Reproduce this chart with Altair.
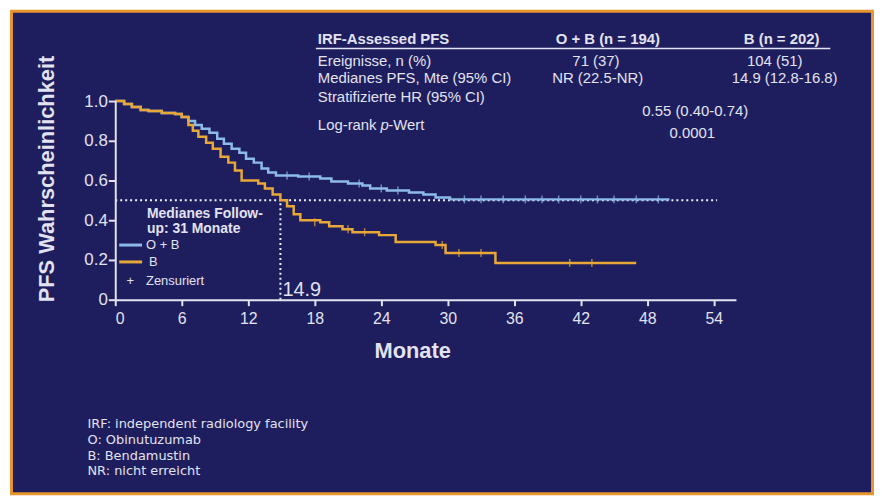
import altair as alt
import pandas as pd

# ---------------- data ----------------
ob_t = [0, 0.8, 1.5, 2.3, 3.0, 4.2, 5.4, 6.0, 6.6, 7.2, 7.8, 8.5, 9.2, 9.8, 10.5,
        11.2, 11.8, 12.5, 13.2, 13.8, 14.5, 16.5, 18.5, 19.5, 21.0, 22.3, 23.0,
        24.5, 26.5, 27.8, 28.9, 30.2, 50.0]
ob_s = [1.0, 0.985, 0.97, 0.955, 0.95, 0.94, 0.935, 0.92, 0.90, 0.88, 0.86, 0.84,
        0.81, 0.785, 0.76, 0.74, 0.71, 0.69, 0.66, 0.64, 0.625, 0.62, 0.61, 0.595,
        0.585, 0.575, 0.56, 0.55, 0.54, 0.53, 0.515, 0.505, 0.505]

b_t = [0, 0.8, 1.5, 2.3, 3.0, 4.2, 5.4, 6.0, 6.6, 7.0, 7.5, 8.2, 8.8, 9.5, 10.2,
       10.8, 11.4, 12.9, 13.5, 14.2, 14.9, 15.5, 16.1, 16.7, 18.5, 19.3, 20.5,
       21.4, 23.8, 25.3, 28.9, 29.8, 34.3, 47.0]
b_s = [1.0, 0.985, 0.97, 0.955, 0.95, 0.94, 0.935, 0.92, 0.88, 0.85, 0.82, 0.79,
       0.76, 0.72, 0.69, 0.65, 0.60, 0.585, 0.56, 0.53, 0.50, 0.47, 0.43, 0.40,
       0.39, 0.37, 0.355, 0.34, 0.325, 0.29, 0.275, 0.235, 0.185, 0.185]

ob_cens_t = [15.5, 17.5, 22.0, 24.0, 25.5, 31.5, 33.0, 35.0, 37.0, 38.5, 40.0, 42.0,
             43.5, 45.0, 47.0, 49.0]
ob_cens_s = [0.625, 0.62, 0.585, 0.56, 0.55, 0.505, 0.505, 0.505, 0.505, 0.505,
             0.505, 0.505, 0.505, 0.505, 0.505, 0.505]
b_cens_t = [18.0, 21.0, 22.5, 29.5, 31.0, 33.0, 41.0, 43.0]
b_cens_s = [0.39, 0.355, 0.34, 0.275, 0.235, 0.235, 0.185, 0.185]

groups = ["O + B", "B"]
colors = ["#8dbbe8", "#e8a838"]

x_ticks = [0, 6, 12, 18, 24, 30, 36, 42, 48, 54]
y_ticks = [0, 0.2, 0.4, 0.6, 0.8, 1.0]

median_b = 14.9
median_line_end = 54.3

table_header = ["IRF-Assessed  PFS", "O + B (n = 194)", "B (n = 202)"]
row_labels = ["Ereignisse, n (%)", "Medianes PFS, Mte (95% CI)", "Stratifizierte HR (95% CI)"]
ob_vals = ["71 (37)", "NR (22.5-NR)"]
b_vals = ["104 (51)", "14.9 (12.8-16.8)"]
hr_text = "0.55 (0.40-0.74)"
p_text = "0.0001"
footnotes = ["IRF: independent radiology facility", "O: Obinutuzumab",
             "B: Bendamustin", "NR: nicht erreicht"]

# ---------------- build tables ----------------
curve_df = pd.DataFrame(
    [{"t": t, "s": s, "g": "O + B"} for t, s in zip(ob_t, ob_s)]
    + [{"t": t, "s": s, "g": "B"} for t, s in zip(b_t, b_s)]
)
cens_df = pd.DataFrame(
    [{"t": t, "s": s, "g": "O + B"} for t, s in zip(ob_cens_t, ob_cens_s)]
    + [{"t": t, "s": s, "g": "B"} for t, s in zip(b_cens_t, b_cens_s)]
)

TXT = "#e2e2f0"
NAVY = "#1e1e5e"
ORANGE = "#e8952e"
FONT = "Liberation Sans"

xscale = alt.Scale(domain=[0, 56], nice=False, zero=False)
yscale = alt.Scale(domain=[0, 1], nice=False)
cscale = alt.Scale(domain=groups, range=colors)

one = alt.Data(values=[{}])

bg_orange = alt.Chart(one).mark_rect(color=ORANGE).encode(
    x=alt.value(-106), x2=alt.value(764), y=alt.value(-92), y2=alt.value(397))
bg_navy = alt.Chart(one).mark_rect(color=NAVY).encode(
    x=alt.value(-103), x2=alt.value(761), y=alt.value(-89), y2=alt.value(394))

curves = alt.Chart(curve_df).mark_line(interpolate="step-after", strokeWidth=2.5).encode(
    x=alt.X("t:Q", scale=xscale,
            axis=alt.Axis(values=x_ticks, tickCount=20, title="Monate", titleX=299, titleY=51,
                          titleBaseline="middle", titleFontSize=22, labelFontSize=16,
                          labelPadding=5, tickSize=6, zindex=2, labelOverlap=False)),
    y=alt.Y("s:Q", scale=yscale,
            axis=alt.Axis(values=y_ticks, tickCount=20, title="PFS Wahrscheinlichkeit",
                          labelExpr="datum.value == 0 ? '0' : format(datum.value, '.1f')",
                          titleX=-69, titleY=78, titleAngle=270, titleBaseline="middle",
                          titleAlign="center", titleFontSize=22, labelFontSize=17,
                          labelPadding=1, tickSize=7, zindex=2, labelOverlap=False,
                          labelBound=False)),
    color=alt.Color("g:N", scale=cscale, legend=None),
    detail="g:N",
)

cens = alt.Chart(cens_df).mark_tick(orient="vertical", size=8, thickness=1.5).encode(
    x=alt.X("t:Q", scale=xscale), y=alt.Y("s:Q", scale=yscale),
    color=alt.Color("g:N", scale=cscale, legend=None),
)

hline = alt.Chart(pd.DataFrame({"t": [0], "t2": [median_line_end], "s": [0.5]})).mark_rule(
    color="#f0f0ff", strokeWidth=2, strokeDash=[2, 3]).encode(
    x=alt.X("t:Q", scale=xscale), x2="t2:Q", y=alt.Y("s:Q", scale=yscale))
vline = alt.Chart(pd.DataFrame({"t": [median_b], "s": [0], "s2": [0.5]})).mark_rule(
    color="#f0f0ff", strokeWidth=2, strokeDash=[2, 3]).encode(
    x=alt.X("t:Q", scale=xscale), y=alt.Y("s:Q", scale=yscale), y2="s2:Q")
med_label = alt.Chart(pd.DataFrame({"t": [median_b], "s": [0], "lab": ["14.9"]})).mark_text(
    align="left", baseline="bottom", dx=2, dy=0, fontSize=20, font=FONT, color=TXT).encode(
    x=alt.X("t:Q", scale=xscale), y=alt.Y("s:Q", scale=yscale), text="lab:N")


def txt(s, x, y, size=15, bold=False, align="left", italic=False, color=TXT, font=FONT):
    return alt.Chart(one).mark_text(
        text=s, align=align, baseline="middle", fontSize=size, font=font,
        fontWeight="bold" if bold else "normal",
        fontStyle="italic" if italic else "normal", color=color,
    ).encode(x=alt.value(x), y=alt.value(y))


def rule(x1, x2, y1, y2, color, width=2, dash=None):
    kw = {"strokeDash": dash} if dash else {}
    return alt.Chart(one).mark_rule(color=color, strokeWidth=width, **kw).encode(
        x=alt.value(x1), x2=alt.value(x2), y=alt.value(y1), y2=alt.value(y2))


texts = [
    txt(table_header[0], 204, -62, bold=True),
    txt(table_header[1], 496, -62, bold=True, align="center"),
    txt(table_header[2], 671, -62, bold=True, align="center"),
    rule(202, 720, -53, -53, TXT, 1.5),
    txt(row_labels[0], 204, -40),
    txt(ob_vals[0], 484, -40, align="center"),
    txt(b_vals[0], 664, -40, align="center"),
    txt(row_labels[1], 204, -23),
    txt(ob_vals[1], 440, -23),
    txt(b_vals[1], 674, -23, align="center"),
    txt(row_labels[2], 204, -4),
    txt(hr_text, 584, 10, align="center"),
    txt("Log-rank ", 204, 24),
    txt("p", 267, 24, italic=True),
    txt("-Wert", 275, 24),
    txt(p_text, 581, 32, align="center"),
    # in-plot legend
    txt("Medianes Follow-", 32, 114, size=14, bold=True),
    txt("up: 31 Monate", 32, 129, size=14, bold=True),
    rule(4, 27, 145, 145, colors[0], 3),
    txt(groups[0], 31, 145, size=13),
    rule(4, 27, 162, 162, colors[1], 3),
    txt(groups[1], 34, 162, size=13),
    txt("+", 15, 181, size=13, align="center"),
    txt("Zensuriert", 31, 181, size=13),
]
for i, f in enumerate(footnotes):
    texts.append(txt(f, -28, 325 + 16 * i, size=13, font="DejaVu Sans"))

chart = alt.layer(bg_orange, bg_navy, hline, vline, curves, cens, med_label, *texts).properties(
    width=625, height=200,
    autosize=alt.AutoSizeParams(type="none"),
    padding={"left": 108, "top": 92, "right": 139, "bottom": 198},
    background="white",
).configure_view(stroke=None).configure_axis(
    grid=False, domainColor=TXT, domainWidth=2, tickColor=TXT, tickWidth=2,
    labelColor=TXT, titleColor=TXT, labelFont=FONT, titleFont=FONT,
    titleFontWeight="bold", zindex=2,
)

chart.save("out.html", embed_options={"renderer": "svg", "actions": False})
